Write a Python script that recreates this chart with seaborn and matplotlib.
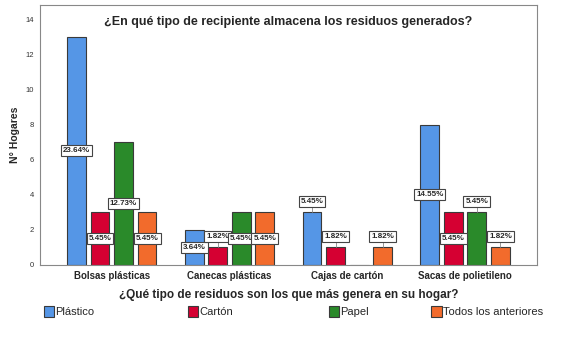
import matplotlib
matplotlib.use("Agg")
import matplotlib.pyplot as plt
import seaborn as sns
import pandas as pd

# Data
recipientes = ['Bolsas plásticas', 'Canecas plásticas', 'Cajas de cartón', 'Sacas de polietileno']
residuos = ['Plástico', 'Cartón', 'Papel', 'Todos los anteriores']
plastico = [13, 2, 3, 8]
carton = [3, 1, 1, 3]
papel = [7, 3, 0, 3]
todos = [3, 3, 1, 1]
total_hogares = 55

colores = ['#5596E6', '#D50032', '#2A8A2A', '#F26B2C']
# where each percentage label goes: 'm' = middle of bar, 'a' = above bar
placement = [['m', 'm', 'a', 'm'],   # Plástico
             ['m', 'a', 'a', 'm'],   # Cartón
             ['m', 'm', '', 'a'],    # Papel
             ['m', 'm', 'a', 'a']]   # Todos

rows = []
for serie, vals in zip(residuos, [plastico, carton, papel, todos]):
    for cat, v in zip(recipientes, vals):
        rows.append({'Recipiente': cat, 'Residuo': serie, 'Hogares': v})
df = pd.DataFrame(rows)

sns.set_style('white')
plt.rcParams['font.family'] = ['Liberation Sans', 'DejaVu Sans']

fig = plt.figure(figsize=(5.78, 3.64), dpi=100)
ax = fig.add_axes([0.069, 0.272, 0.86, 0.714])

sns.barplot(data=df, x='Recipiente', y='Hogares', hue='Residuo', order=recipientes,
            hue_order=residuos, palette=colores, saturation=1, width=0.8, gap=0.2,
            edgecolor='#3a3a3a', linewidth=0.8, legend=False, ax=ax)

ax.set_ylim(0, 14.8)
ax.set_xlim(-0.61, 3.61)
ax.set_yticks(range(0, 15, 2))
ax.tick_params(axis='y', labelsize=5.5, colors='#333333', length=0, pad=4)
ax.tick_params(axis='x', labelsize=7, length=0, pad=4)
for lbl in ax.get_xticklabels():
    lbl.set_fontweight('bold')
for s in ax.spines.values():
    s.set_color('#888888')
    s.set_linewidth(0.8)

ax.set_ylabel('N° Hogares', fontsize=7.5, fontweight='bold', labelpad=4)
ax.set_xlabel('¿Qué tipo de residuos son los que más genera en su hogar?',
              fontsize=8.5, fontweight='bold', labelpad=6)
ax.set_title('¿En qué tipo de recipiente almacena los residuos generados?',
             fontsize=9, fontweight='bold', x=0.5, y=0.89)

box = dict(boxstyle='square,pad=0.25', facecolor='white', edgecolor='#444444', linewidth=0.8)
for i, cont in enumerate(ax.containers):
    for j, bar in enumerate(cont):
        h = bar.get_height()
        if h <= 0:
            continue
        xc = bar.get_x() + bar.get_width() / 2
        txt = f'{h / total_hogares * 100:.2f}%'
        if placement[i][j] == 'a':
            ax.plot([xc, xc], [h, h + 0.3], color='#888888', lw=0.6)
            ax.text(xc, h + 0.6, txt, ha='center', va='center', fontsize=5.8,
                    fontweight='bold', bbox=box, zorder=5)
        else:
            ax.text(xc, h / 2, txt, ha='center', va='center', fontsize=5.8,
                    fontweight='bold', bbox=box, zorder=5)

# legend row under the axis title
legend_x = [0.076, 0.325, 0.569, 0.746]
for name, col, lx in zip(residuos, colores, legend_x):
    fig.patches.append(plt.Rectangle((lx, 0.128), 0.018, 0.03, transform=fig.transFigure,
                                     facecolor=col, edgecolor='#3a3a3a', linewidth=0.8))
    fig.text(lx + 0.02, 0.143, name, fontsize=8, va='center', ha='left')

fig.savefig('out.png', dpi=100, facecolor='white')
